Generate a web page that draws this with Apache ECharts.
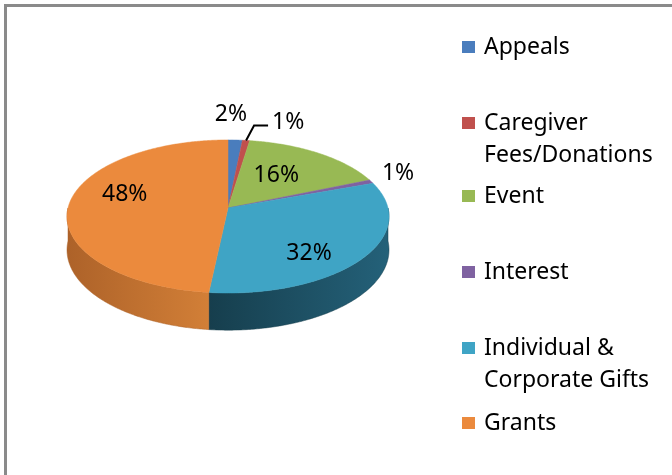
<!DOCTYPE html>
<html>
<head>
<meta charset="utf-8">
<script src="https://cdn.jsdelivr.net/npm/echarts@6/dist/echarts.min.js"></script>
<style>
	html, body { margin: 0; padding: 0; background: #fff; }
	#chart { width: 672px; height: 475px; }
</style>
</head>
<body>
<div id="chart"></div>
<script>
// data (percent of total)
const categories = ['Appeals', 'Caregiver\nFees/Donations', 'Event', 'Interest', 'Individual &\nCorporate Gifts', 'Grants']
const values = [1.6, 0.8, 16.3, 0.8, 32.2, 48.3]
const colors = ['#4a7dbd', '#c0504d', '#98b954', '#7f62a1', '#3fa4c5', '#eb8a3d']
const sideColors = [
	['#36598a', '#2a4670'],
	['#8e3a38', '#70302e'],
	['#6f8a3c', '#5a7030'],
	['#5c4878', '#4a3a60'],
	['#246179', '#163e4d'],
	['#d27f37', '#ad6229']
]

// pie geometry (tilted disc with a bit of perspective)
const CX = 228, CY = 208, R = 160, H = 75.6, K = 0.111, DEPTH = 33
const FONT = '"Noto Sans", sans-serif'

// label placement: radius as a fraction of the rim, plus small nudge
const labelR = [1.37, 1.0, 0.6, 1.2, 0.6, 0.65]
const labelShift = [[-7, 0], [0, 0], [-6, 0], [-2, -3], [0, 15], [0, -11]]
const legendTops = [31, 75, 180, 256, 300, 407]

const total = values.reduce((a, b) => a + b, 0)
const starts = []
let acc = 0
values.forEach(v => { starts.push(acc / total); acc += v })

const proj = (theta, r, down) => {
	const u = Math.sin(theta), v = Math.cos(theta)
	const s = 1 / (1 + K * v)
	return [CX + R * r * u * s, CY - H * r * v * s + (down || 0) * s]
}

const arcPoints = (a0, a1, down) => {
	const pts = []
	const n = Math.max(2, Math.ceil((a1 - a0) / 0.01))
	for (let k = 0; k <= n; k++) {
		pts.push(proj(a0 + (a1 - a0) * k / n, 1, down))
	}
	return pts
}

const makeRender = (i) => (params, api) => {
	const a0 = starts[i] * Math.PI * 2
	const a1 = (starts[i] + values[i] / total) * Math.PI * 2
	const children = []

	// front side wall (only the half facing the viewer)
	const f0 = Math.max(a0, Math.PI / 2), f1 = Math.min(a1, Math.PI * 1.5)
	if (f1 > f0) {
		const top = arcPoints(f0, f1, 0)
		const bottom = arcPoints(f0, f1, DEPTH).reverse()
		const xs = top.map(p => p[0])
		children.push({
			type: 'polygon',
			shape: { points: top.concat(bottom) },
			style: {
				fill: new echarts.graphic.LinearGradient(Math.max(...xs), 0, Math.min(...xs), 0, [
					{ offset: 0, color: sideColors[i][0] },
					{ offset: 1, color: sideColors[i][1] }
				], true),
				stroke: sideColors[i][1],
				lineWidth: 0.5
			}
		})
	}

	// top face
	children.push({
		type: 'polygon',
		shape: { points: [[CX, CY]].concat(arcPoints(a0, a1, 0)) },
		style: { fill: colors[i], stroke: colors[i], lineWidth: 0.5 }
	})

	// data label
	const mid = (a0 + a1) / 2
	const txt = Math.round(values[i]) + '%'
	if (i === 1) {
		const p = proj(mid, 1, 0)
		const elbow = [p[0] + 8, p[1] - 15]
		const end = [elbow[0] + 14, elbow[1]]
		children.push({
			type: 'polyline',
			shape: { points: [p, elbow, end] },
			style: { stroke: '#000', lineWidth: 2, fill: null },
			z2: 100
		})
		children.push({
			type: 'text',
			x: end[0] + 4, y: end[1] - 3,
			style: { text: txt, fontFamily: FONT, fontSize: 23, fill: '#000', align: 'left', verticalAlign: 'middle' },
			z2: 100
		})
	} else {
		const p = proj(mid, labelR[i], 0)
		children.push({
			type: 'text',
			x: p[0] + labelShift[i][0], y: p[1] + labelShift[i][1],
			style: { text: txt, fontFamily: FONT, fontSize: 23, fill: '#000', align: 'center', verticalAlign: 'middle' },
			z2: 100
		})
	}
	return { type: 'group', children: children }
}

const series = categories.map((name, i) => ({
	type: 'custom',
	name: name,
	coordinateSystem: 'none',
	silent: true,
	data: [values[i]],
	itemStyle: { color: colors[i] },
	renderItem: makeRender(i)
}))

// two-line entries get a blank first line so the marker sits on the first text line
const legends = categories.map((name, i) => ({
	data: [name],
	left: 462,
	top: legendTops[i],
	orient: 'vertical',
	padding: 0,
	icon: 'rect',
	itemWidth: 13,
	itemHeight: 12,
	selectedMode: false,
	formatter: n => n.indexOf('\n') >= 0 ? ' \n' + n : n,
	textStyle: {
		fontFamily: FONT,
		fontSize: 23,
		color: '#000',
		lineHeight: 32,
		padding: [0, 0, 0, 4]
	}
}))

const chart = echarts.init(document.getElementById('chart'))
chart.setOption({
	animation: false,
	backgroundColor: '#fff',
	legend: legends,
	graphic: [{
		type: 'rect',
		shape: { x: 5.5, y: 5.5, width: 720, height: 520 },
		style: { fill: null, stroke: '#8a8a8a', lineWidth: 3 },
		silent: true
	}],
	series: series
})
</script>
</body>
</html>
